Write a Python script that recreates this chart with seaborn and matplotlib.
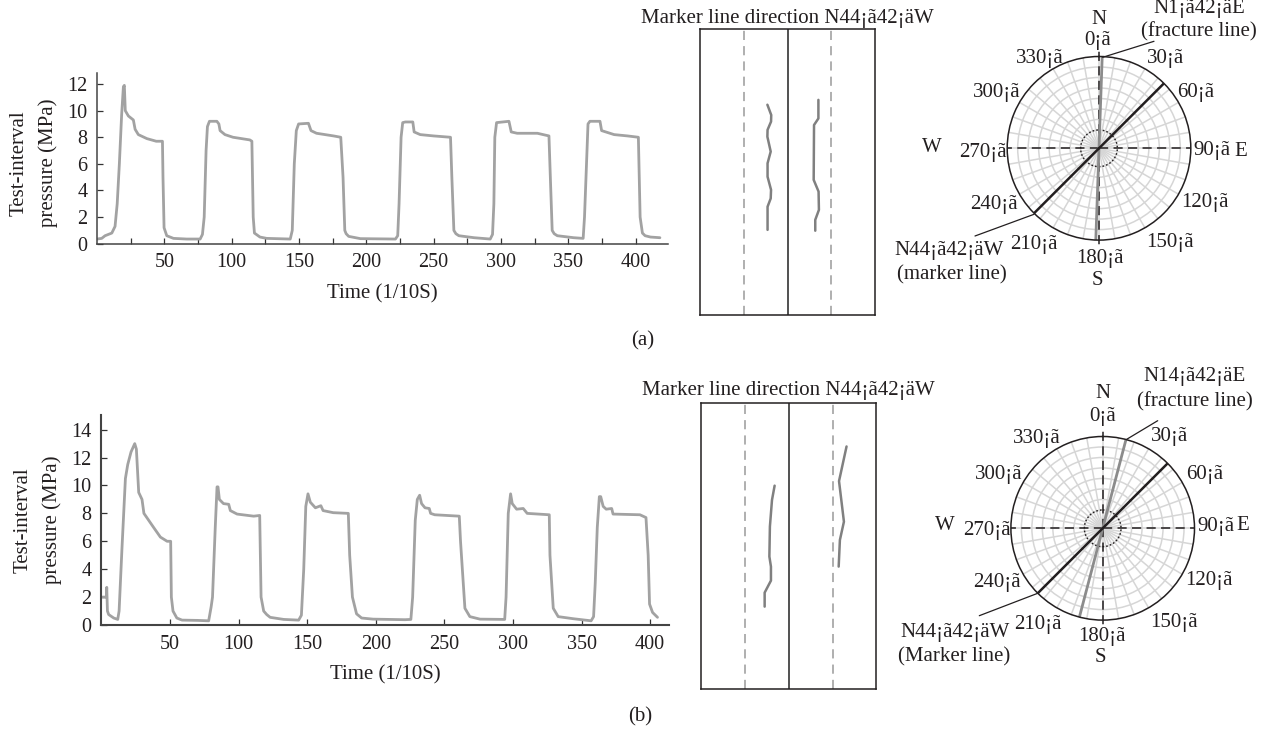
#%%
import numpy as np
import matplotlib.pyplot as plt
import seaborn as sns
from matplotlib.lines import Line2D

# pressure curves
time_a = [0, 3.5, 6, 11, 13.4, 15, 16.6, 18.3, 19.6, 20.3, 21, 23.3, 27, 28.3, 30.7, 37, 44, 48.6, 49, 49.8, 51.8,
          56.8, 66.7, 76.6, 78.3, 79.6, 81, 82, 83.5, 89, 90.5, 91.4, 95, 101, 113.5, 115, 116, 116.9, 121, 126,
          143.5, 145, 146.5, 148, 149.7, 157, 158.9, 163, 175.7, 181, 182.7, 184, 185, 186.9, 195.6, 221.6, 223.3,
          224.3, 225.8, 227, 229, 234.5, 235.5, 240, 250, 262.5, 263.5, 265, 266.5, 268.7, 280, 292, 293.7, 294.7,
          295.4, 296.7, 305.9, 307.6, 312, 327, 335.6, 336.8, 338, 339.5, 341.8, 354, 361, 362, 364.6, 366, 373.5,
          374.7, 384, 394, 402, 403.3, 405, 407, 411, 418]
pressure_a = [0.35, 0.4, 0.6, 0.8, 1.3, 3, 6, 9.7, 11.8, 11.9, 10, 9.6, 9.3, 8.6, 8.2, 7.9, 7.7, 7.7, 5, 1.2, 0.6,
              0.4, 0.35, 0.35, 0.7, 2, 7, 8.8, 9.2, 9.2, 9, 8.5, 8.2, 8, 7.8, 7.7, 2, 0.8, 0.5, 0.4,
              0.35, 1, 6, 8.5, 9, 9.05, 8.5, 8.3, 8.1, 8, 5, 1, 0.75, 0.55, 0.38, 0.35, 0.6,
              3, 8, 9.1, 9.15, 9.15, 8.4, 8.2, 8.1, 8, 5, 1, 0.75, 0.6, 0.45, 0.35, 0.7, 3,
              8, 9.1, 9.2, 8.4, 8.3, 8.3, 8.1, 4.5, 1, 0.75, 0.6, 0.45, 0.4, 2, 9, 9.2, 9.2,
              8.5, 8.2, 8.1, 8, 2, 0.8, 0.6, 0.5, 0.45]

time_b = [0.7, 3.6, 3.9, 4.4, 5.3, 9, 11.9, 12.9, 15, 17.5, 19.2, 21.6, 24.3, 25.5, 27.2, 29.6, 31, 34.5, 38, 43,
          47.9, 50.5, 51, 52.2, 55, 58.8, 70, 78.2, 80, 81, 83, 84.3, 85, 86, 89, 92.8, 94, 98.9, 111, 115.4, 116.4,
          118.3, 120.5, 123, 132.9, 143.8, 145.8, 147.5, 149, 150.6, 152.3, 156, 160, 161.6, 169, 180, 181, 183, 186,
          189.7, 198, 221.3, 225.6, 226.9, 228.8, 230.3, 232, 233.4, 235.9, 239, 240, 243, 260.9, 261.8, 265,
          268.6, 276, 294, 295, 296.6, 298.3, 299.5, 302.7, 307.5, 310.4, 326.5, 327, 329.4, 333, 344, 357,
          358.8, 360, 361.5, 363, 364, 365.8, 368, 372, 373, 392.6, 397, 398.6, 399.6, 401.8, 405.4]
pressure_b = [2, 2, 2.7, 1, 0.75, 0.5, 0.4, 1, 5.5, 10.5, 11.5, 12.4, 13, 12.6, 9.5, 9, 8, 7.5, 7, 6.3,
              6, 6, 2, 1, 0.5, 0.35, 0.33, 0.3, 1.3, 2, 7, 9.9, 9.9, 9, 8.7, 8.65, 8.2, 7.95, 7.8, 7.85, 2,
              1, 0.75, 0.55, 0.4, 0.35, 0.7, 4, 8.5, 9.4, 8.8, 8.4, 8.55, 8.2, 8.05, 8, 5, 2, 0.8,
              0.5, 0.42, 0.38, 0.4, 2, 7.5, 9, 9.3, 8.7, 8.4, 8.35, 8, 7.9, 7.8, 6, 1.2,
              0.6, 0.42, 0.4, 2, 8, 9.4, 8.7, 8.3, 8.35, 8, 7.9, 5, 1.2, 0.6, 0.45, 0.3,
              0.6, 3, 7, 9.2, 9.2, 8.5, 8.3, 8.35, 7.95, 7.9, 7.7, 5, 1.5, 0.9, 0.55]

# traces on the unrolled core, percent of box width / height from the top
trace_a1_u = [38.4, 40.6, 40.5, 38.5, 38.4, 40.3, 38.5, 38.5, 40.5, 40.3, 38.5, 38.5]
trace_a1_v = [26.4, 30, 32.3, 35.2, 37.6, 42.8, 46.9, 51.6, 56.2, 59.2, 62.1, 70.2]
trace_a2_u = [67.6, 67.6, 65.1, 64.9, 67.7, 67.9, 65.8, 65.8]
trace_a2_v = [24.7, 31.2, 33.5, 52.7, 56.8, 63.2, 66.7, 70.5]
trace_b1_u = [41.9, 40.4, 39.2, 38.9, 39.8, 39.8, 36.2, 36.2]
trace_b1_v = [28.9, 33.9, 43.2, 53.7, 57.2, 62.1, 66.3, 71.2]
trace_b2_u = [83, 78.7, 81.5, 79.2, 78.5]
trace_b2_v = [15.2, 27.3, 41.5, 47.9, 57.2]

# strike angles on the rose
marker_a, fracture_a = 45.0, 2.0
marker_b, fracture_b = 45.0, 14.7

degree_labels = ["0¡ã", "30¡ã", "60¡ã", "90¡ã", "120¡ã", "150¡ã", "180¡ã", "210¡ã", "240¡ã", "270¡ã", "300¡ã", "330¡ã"]
label_pos_a = [(1098, 38), (1165, 57), (1196, 90), (1212, 149), (1205, 200), (1170, 241),
               (1100, 256), (1034, 243), (994, 202), (983, 150), (997, 91), (1040, 57)]
label_pos_b = [(1103, 415), (1169, 435), (1205, 472), (1216, 524), (1209, 579), (1174, 620),
               (1102, 634), (1038, 623), (997, 581), (987, 529), (999, 472), (1037, 436)]

sns.set_theme(style="white")
plt.rcParams["font.family"] = ["Liberation Serif", "DejaVu Serif"]
plt.rcParams["text.color"] = "#231f20"

W, H = 1268, 731
fig = plt.figure(figsize=(W / 100, H / 100), dpi=100)
FS = 15


def box(left, top, right, bottom):
    return [left / W, 1 - bottom / H, (right - left) / W, (bottom - top) / H]


def put(x, y, s, **kw):
    kw.setdefault("ha", "center")
    kw.setdefault("va", "center")
    kw.setdefault("fontsize", FS)
    # matplotlib centres on the box with descenders, sits a bit high otherwise
    if "rotation" not in kw:
        y = y + 2
    fig.text(x / W, 1 - y / H, s, **kw)


def seg(x0, y0, x1, y1):
    fig.add_artist(Line2D([x0 / W, x1 / W], [1 - y0 / H, 1 - y1 / H], color="#231f20", lw=0.9))


def curve(rect, t, p, xmax, ymax, yticks, xticks, lw_axis):
    ax = fig.add_axes(box(*rect))
    sns.lineplot(x=t, y=p, ax=ax, color="#a2a2a2", lw=2.0, estimator=None, sort=False)
    ax.set_xlim(0, xmax)
    ax.set_ylim(0, ymax)
    ax.set_xticks(xticks)
    ax.set_xticklabels([str(v) if v % 50 == 0 else "" for v in xticks])
    ax.set_yticks(yticks)
    ax.tick_params(direction="in", length=4, width=0.9, color="#333333", pad=7, labelsize=14.5,
                   labelcolor="#231f20", left=True, bottom=True)
    for s in ["top", "right"]:
        ax.spines[s].set_visible(False)
    for s in ["left", "bottom"]:
        ax.spines[s].set_color("#444444")
        ax.spines[s].set_linewidth(lw_axis)
    ax.set_xlabel("")
    ax.set_ylabel("")
    return ax


def core(rect, traces):
    ax = fig.add_axes(box(*rect))
    ax.set_xlim(0, 100)
    ax.set_ylim(100, 0)
    ax.set_xticks([])
    ax.set_yticks([])
    for s in ax.spines.values():
        s.set_color("#231f20")
        s.set_linewidth(1.1)
    ax.axvline(50, color="#333333", lw=1.2)
    for x in [25, 75]:
        ax.axvline(x, color="#9a9a9a", lw=1.1, ls=(0, (6, 4)))
    for u, v in traces:
        sns.lineplot(x=u, y=v, ax=ax, color="#808080", lw=1.8, estimator=None, sort=False)
    ax.set_xlabel("")
    ax.set_ylabel("")


def rose(cx, cy, marker, fracture):
    R = 91.8
    ax = fig.add_axes(box(cx - R, cy - R, cx + R, cy + R), projection="polar")
    ax.set_theta_zero_location("N")
    ax.set_theta_direction(-1)
    ax.set_rlim(0, 1)
    ax.set_rticks(np.linspace(0.2, 1, 8)[:-1])
    ax.set_yticklabels([])
    ax.set_thetagrids(np.arange(0, 360, 10), labels=[])
    ax.grid(color="#d6d6d6", lw=1.1)
    ax.spines["polar"].set_color("#231f20")
    ax.spines["polar"].set_linewidth(1.1)
    ax.plot(np.linspace(0, 2 * np.pi, 200), [0.2] * 200, color="#231f20", lw=1, ls=(0, (1.2, 1.5)))
    for a in [0, 180]:
        ax.plot(np.radians([a, a]), [0, 1.08], color="#231f20", lw=1.1, ls=(0, (6, 3.5)), clip_on=False)
    for a in [90, 270]:
        ax.plot(np.radians([a, a]), [0, 1], color="#231f20", lw=1.1, ls=(0, (6, 3.5)))
    ax.plot(np.radians([fracture, fracture]), [0, 1], color="#8c8c8c", lw=2)
    ax.plot(np.radians([fracture + 180, fracture + 180]), [0, 1], color="#8c8c8c", lw=2)
    ax.plot(np.radians([marker, marker]), [0, 1], color="#231f20", lw=1.8)
    ax.plot(np.radians([marker + 180, marker + 180]), [0, 1], color="#231f20", lw=1.8)


#%% panel a
curve((97, 73, 668, 243.7), time_a, pressure_a, 424, 12.83, range(0, 13, 2), list(range(25, 425, 25)), 1.1)
core((700.3, 29.3, 875, 315), [(trace_a1_u, trace_a1_v), (trace_a2_u, trace_a2_v)])
rose(1099, 148.3, marker_a, fracture_a)

put(19, 163, "Test-interval", rotation=90)
put(48, 163, "pressure (MPa)", rotation=90)
put(382, 292, "Time (1/10S)")
put(787.7, 16, "Marker line direction N44¡ã42¡äW")
put(643, 339, "(a)")
for (x, y), s in zip(label_pos_a, degree_labels):
    put(x, y, s)
put(1099, 17, "N")
put(1241, 149, "E")
put(1097, 279, "S")
put(932, 145, "W")
put(1199, 7, "N1¡ã42¡äE")
put(1199, 30, "(fracture line)")
put(949, 249, "N44¡ã42¡äW")
put(952, 273, "(marker line)")
seg(1102.7, 57.3, 1154, 41.3)
seg(1034, 214.3, 975, 236)

#%% panel b
curve((101.4, 415, 669.3, 625), time_b, pressure_b, 414, 15.05, range(0, 15, 2), list(range(50, 401, 50)), 1.5)
core((701.3, 403, 876.3, 689), [(trace_b1_u, trace_b1_v), (trace_b2_u, trace_b2_v)])
rose(1102.7, 528.3, marker_b, fracture_b)

put(22.7, 520, "Test-interval", rotation=90)
put(52, 520, "pressure (MPa)", rotation=90)
put(385, 673, "Time (1/10S)")
put(788.7, 388, "Marker line direction N44¡ã42¡äW")
put(640, 715, "(b)")
for (x, y), s in zip(label_pos_b, degree_labels):
    put(x, y, s)
put(1103, 392, "N")
put(1243, 524, "E")
put(1100, 655, "S")
put(945, 523, "W")
put(1195, 375, "N14¡ã42¡äE")
put(1195, 400, "(fracture line)")
put(955, 630, "N44¡ã42¡äW")
put(954, 655, "(Marker line)")
seg(1126.7, 439.3, 1157.7, 420.7)
seg(1037.7, 593.3, 979.3, 615.7)

fig.savefig("out.png", dpi=100)
